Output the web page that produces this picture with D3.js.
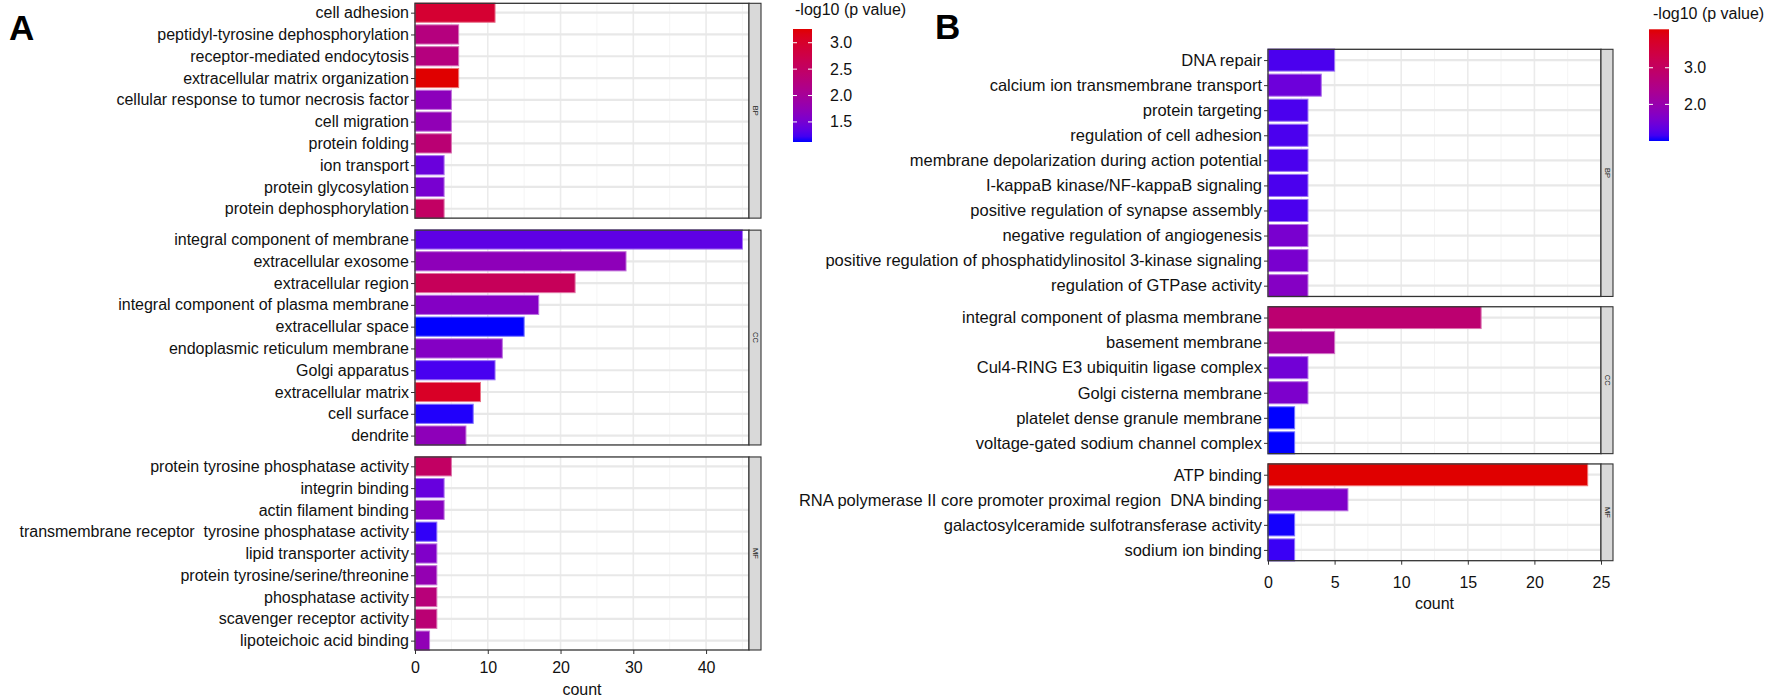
<!DOCTYPE html>
<html>
<head>
<meta charset="utf-8">
<script src="https://cdn.jsdelivr.net/npm/d3@7"></script>
<style>
  html, body { margin: 0; padding: 0; background: #fff; }
  svg { display: block; font-family: "Liberation Sans", Arial, sans-serif; }
</style>
</head>
<body>
<svg id="chart" width="1772" height="699"></svg>
<script>
// ---- data, panel A ----
const ontologies = ['BP', 'CC', 'MF']

const termsA = [
  'cell adhesion', 'peptidyl-tyrosine dephosphorylation', 'receptor-mediated endocytosis',
  'extracellular matrix organization', 'cellular response to tumor necrosis factor', 'cell migration',
  'protein folding', 'ion transport', 'protein glycosylation', 'protein dephosphorylation',
  'integral component of membrane', 'extracellular exosome', 'extracellular region',
  'integral component of plasma membrane', 'extracellular space', 'endoplasmic reticulum membrane',
  'Golgi apparatus', 'extracellular matrix', 'cell surface', 'dendrite',
  'protein tyrosine phosphatase activity', 'integrin binding', 'actin filament binding',
  'transmembrane receptor  tyrosine phosphatase activity', 'lipid transporter activity',
  'protein tyrosine/serine/threonine', 'phosphatase activity', 'scavenger receptor activity',
  'lipoteichoic acid binding'
]
const ontA = [
  'BP', 'BP', 'BP', 'BP', 'BP', 'BP', 'BP', 'BP', 'BP', 'BP',
  'CC', 'CC', 'CC', 'CC', 'CC', 'CC', 'CC', 'CC', 'CC', 'CC',
  'MF', 'MF', 'MF', 'MF', 'MF', 'MF', 'MF', 'MF', 'MF'
]
const countA = [11, 6, 6, 6, 5, 5, 5, 4, 4, 4,
  45, 29, 22, 17, 15, 12, 11, 9, 8, 7,
  5, 4, 4, 3, 3, 3, 3, 3, 2]
const logpA = [2.95, 2.25, 2.25, 3.26, 1.7, 1.75, 2.35, 1.42, 1.52, 2.5,
  1.35, 1.72, 2.6, 1.62, 1.12, 1.62, 1.25, 3.05, 1.15, 1.72,
  2.5, 1.4, 1.65, 1.18, 1.58, 1.78, 2.3, 2.35, 1.75]
const xTicksA = [0, 10, 20, 30, 40]
const xMinorA = [5, 15, 25, 35, 45]
const legendTicksA = [1.5, 2.0, 2.5, 3.0]

// ---- data, panel B ----
const termsB = [
  'DNA repair', 'calcium ion transmembrane transport', 'protein targeting', 'regulation of cell adhesion',
  'membrane depolarization during action potential', 'I-kappaB kinase/NF-kappaB signaling',
  'positive regulation of synapse assembly', 'negative regulation of angiogenesis',
  'positive regulation of phosphatidylinositol 3-kinase signaling', 'regulation of GTPase activity',
  'integral component of plasma membrane', 'basement membrane', 'Cul4-RING E3 ubiquitin ligase complex',
  'Golgi cisterna membrane', 'platelet dense granule membrane', 'voltage-gated sodium channel complex',
  'ATP binding', 'RNA polymerase II core promoter proximal region  DNA binding',
  'galactosylceramide sulfotransferase activity', 'sodium ion binding'
]
const ontB = [
  'BP', 'BP', 'BP', 'BP', 'BP', 'BP', 'BP', 'BP', 'BP', 'BP',
  'CC', 'CC', 'CC', 'CC', 'CC', 'CC',
  'MF', 'MF', 'MF', 'MF'
]
const countB = [5, 4, 3, 3, 3, 3, 3, 3, 3, 3,
  16, 5, 3, 3, 2, 2,
  24, 6, 2, 2]
const logpB = [1.2, 1.45, 1.2, 1.2, 1.2, 1.2, 1.2, 1.58, 1.58, 1.72,
  2.8, 2.3, 1.5, 1.62, 1.0, 1.0,
  4.05, 1.65, 1.02, 1.12]
const xTicksB = [0, 5, 10, 15, 20, 25]
const xMinorB = [2.5, 7.5, 12.5, 17.5, 22.5]
const legendTicksB = [2.0, 3.0]

// ---- layout ----
const PAD = 0.43          // discrete expansion, in rows
const BAR = 0.88          // bar thickness, fraction of a row
const LOW = '#0000ff'
const HIGH = '#e00000'

const svg = d3.select('#chart')
const defs = svg.append('defs')

const panelA = {
  id: 'A', terms: termsA, ont: ontA, count: countA, logp: logpA,
  left: 415, right: 749, top: 3.3, bottom: 650, gap: 12,
  xmax: 45.9, ticks: xTicksA, minor: xMinorA,
  tickLabelDy: 17, titleY: 689, labelSize: 16,
  letter: { x: 9, y: 40 },
  legend: { x: 793, w: 19, top: 29, bottom: 142, ticks: legendTicksA, labelX: 830, titleX: 795, titleY: 15 }
}

const panelB = {
  id: 'B', terms: termsB, ont: ontB, count: countB, logp: logpB,
  left: 1268, right: 1601, top: 49.3, bottom: 560.7, gap: 10.3,
  xmax: 25.0, ticks: xTicksB, minor: xMinorB,
  tickLabelDy: 22, titleY: 603, labelSize: 16.5,
  letter: { x: 935, y: 39 },
  legend: { x: 1649, w: 20, top: 29.3, bottom: 141, ticks: legendTicksB, labelX: 1684, titleX: 1653, titleY: 19 }
}

function drawPanel (cfg) {
  const color = d3.scaleSequential(d3.interpolateLab(LOW, HIGH)).domain(d3.extent(cfg.logp))
  const x = d3.scaleLinear().domain([0, cfg.xmax]).range([cfg.left, cfg.right])

  const rows = cfg.terms.map((t, i) => ({ term: t, ont: cfg.ont[i], count: cfg.count[i], logp: cfg.logp[i] }))
  const sizes = ontologies.map(o => rows.filter(d => d.ont === o).length)
  const units = sizes.map(n => n - 1 + 2 * PAD)
  const unit = (cfg.bottom - cfg.top - cfg.gap * (ontologies.length - 1)) / d3.sum(units)

  const root = svg.append('g').attr('class', 'panel-' + cfg.id)
  let y0 = cfg.top

  ontologies.forEach((o, oi) => {
    const h = units[oi] * unit
    const data = rows.filter(d => d.ont === o)
    const y = d3.scalePoint().domain(data.map(d => d.term)).range([y0, y0 + h]).padding(PAD)
    const bh = y.step() * BAR
    const g = root.append('g')

    // grid
    g.selectAll('line.minor').data(cfg.minor).join('line')
      .attr('x1', d => x(d)).attr('x2', d => x(d))
      .attr('y1', y0).attr('y2', y0 + h)
      .attr('stroke', '#f3f3f3').attr('stroke-width', 0.9)
    g.selectAll('line.majorx').data(cfg.ticks).join('line')
      .attr('x1', d => x(d)).attr('x2', d => x(d))
      .attr('y1', y0).attr('y2', y0 + h)
      .attr('stroke', '#ebebeb').attr('stroke-width', 1.6)
    g.selectAll('line.majory').data(data).join('line')
      .attr('x1', cfg.left).attr('x2', cfg.right)
      .attr('y1', d => y(d.term)).attr('y2', d => y(d.term))
      .attr('stroke', '#e8e8e8').attr('stroke-width', 2.2)

    // bars
    g.selectAll('rect.bar').data(data).join('rect')
      .attr('x', x(0))
      .attr('y', d => y(d.term) - bh / 2)
      .attr('width', d => x(d.count) - x(0))
      .attr('height', bh)
      .attr('fill', d => color(d.logp))
      .attr('stroke', d => d3.interpolateRgb(color(d.logp), '#ffffff')(0.45))
      .attr('stroke-width', 1)

    // panel border
    g.append('rect')
      .attr('x', cfg.left).attr('y', y0)
      .attr('width', cfg.right - cfg.left).attr('height', h)
      .attr('fill', 'none').attr('stroke', '#333').attr('stroke-width', 1.3)

    // facet strip
    g.append('rect')
      .attr('x', cfg.right).attr('y', y0)
      .attr('width', 12).attr('height', h)
      .attr('fill', '#d9d9d9').attr('stroke', '#333').attr('stroke-width', 1.1)
    g.append('text')
      .attr('transform', `translate(${cfg.right + 6},${y0 + h / 2}) rotate(90)`)
      .attr('text-anchor', 'middle').attr('dominant-baseline', 'central')
      .attr('font-size', 7.5).attr('fill', '#1a1a1a')
      .text(o)

    // term labels
    root.append('g')
      .attr('transform', `translate(${cfg.left},0)`)
      .call(d3.axisLeft(y).tickSize(4).tickPadding(2))
      .call(a => a.select('.domain').remove())
      .call(a => a.selectAll('line').attr('stroke', '#333'))
      .call(a => a.selectAll('text')
        .attr('font-size', cfg.labelSize).attr('fill', '#111')
        .attr('font-family', '"Liberation Sans", Arial, sans-serif')
        .style('white-space', 'pre'))

    y0 += h + cfg.gap
  })

  // x axis under the last facet
  const axisY = y0 - cfg.gap
  root.append('g')
    .attr('transform', `translate(0,${axisY})`)
    .call(d3.axisBottom(x).tickValues(cfg.ticks).tickSize(4))
    .call(a => a.select('.domain').remove())
    .call(a => a.selectAll('line').attr('stroke', '#333'))
    .call(a => a.selectAll('text')
      .attr('y', cfg.tickLabelDy).attr('dy', '0.35em')
      .attr('font-size', 16).attr('fill', '#111')
      .attr('font-family', '"Liberation Sans", Arial, sans-serif'))

  root.append('text')
    .attr('x', (cfg.left + cfg.right) / 2).attr('y', cfg.titleY)
    .attr('text-anchor', 'middle').attr('dominant-baseline', 'central')
    .attr('font-size', 16).attr('fill', '#111')
    .text('count')

  // panel letter
  root.append('text')
    .attr('x', cfg.letter.x).attr('y', cfg.letter.y)
    .attr('font-size', 35).attr('font-weight', 'bold').attr('fill', '#000')
    .text(cfg.id)

  // colour bar legend
  const L = cfg.legend
  const gradId = 'grad' + cfg.id
  const grad = defs.append('linearGradient').attr('id', gradId)
    .attr('x1', 0).attr('y1', 1).attr('x2', 0).attr('y2', 0)
  const dom = color.domain()
  d3.range(0, 1.0001, 0.05).forEach(t => {
    grad.append('stop').attr('offset', t).attr('stop-color', color(dom[0] + t * (dom[1] - dom[0])))
  })
  const ly = d3.scaleLinear().domain(dom).range([L.bottom, L.top])
  const lg = root.append('g')
  lg.append('text')
    .attr('x', L.titleX).attr('y', L.titleY)
    .attr('font-size', 16).attr('fill', '#111')
    .text('-log10 (p value)')
  lg.append('rect')
    .attr('x', L.x).attr('y', L.top)
    .attr('width', L.w).attr('height', L.bottom - L.top)
    .attr('fill', `url(#${gradId})`)
  lg.selectAll('line.tl').data(L.ticks).join('line')
    .attr('x1', L.x).attr('x2', L.x + 4)
    .attr('y1', d => ly(d)).attr('y2', d => ly(d))
    .attr('stroke', '#fff').attr('stroke-width', 1)
  lg.selectAll('line.tr').data(L.ticks).join('line')
    .attr('x1', L.x + L.w - 4).attr('x2', L.x + L.w)
    .attr('y1', d => ly(d)).attr('y2', d => ly(d))
    .attr('stroke', '#fff').attr('stroke-width', 1)
  lg.selectAll('text.lab').data(L.ticks).join('text')
    .attr('x', L.labelX).attr('y', d => ly(d))
    .attr('dominant-baseline', 'central')
    .attr('font-size', 16).attr('fill', '#111')
    .text(d => d3.format('.1f')(d))
}

drawPanel(panelA)
drawPanel(panelB)
</script>
</body>
</html>
